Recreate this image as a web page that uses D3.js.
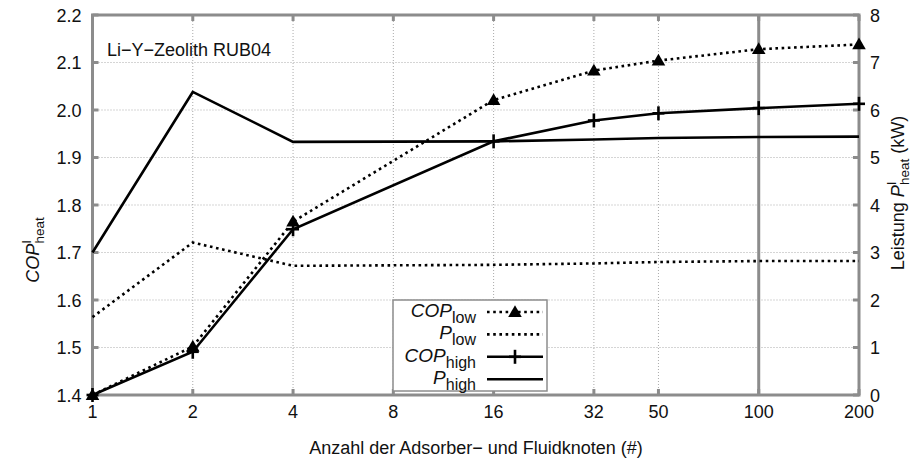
<!DOCTYPE html>
<head>
  <meta charset="utf-8">
  <script src="https://d3js.org/d3.v7.min.js"></script>
  <style>
    body { margin: 0; background: #fff; }
    svg { font-family: "Liberation Sans", Arial, sans-serif; }
    .grid line { stroke: #aaa; stroke-width: 1; stroke-dasharray: 1,2; }
    .tick-mark { stroke: #8c8c8c; stroke-width: 3; }
    .frame { fill: none; stroke: #8c8c8c; stroke-width: 3; }
    .lbl { font-size: 18px; fill: #111; }
    .line { fill: none; stroke: #000; stroke-width: 2.6; }
    .dotted { stroke-dasharray: 2.6,3.6; }
  </style>
</head>
<body>
<svg id="chart" width="916" height="461"></svg>
<script>
// x positions (number of nodes)
var nodes = [1, 2, 4, 16, 32, 50, 100, 200];
var xTicks = [1, 2, 4, 8, 16, 32, 50, 100, 200];
var copTicks = [1.4, 1.5, 1.6, 1.7, 1.8, 1.9, 2.0, 2.1, 2.2];
var pTicks = [0, 1, 2, 3, 4, 5, 6, 7, 8];

// COP (left axis)
var copLow  = [1.40, 1.502, 1.765, 2.021, 2.083, 2.104, 2.128, 2.138];
var copHigh = [1.40, 1.491, 1.749, 1.934, 1.978, 1.993, 2.004, 2.013];
// Power in kW (right axis)
var pLow  = [1.64, 3.21, 2.72, 2.74, 2.77, 2.80, 2.82, 2.82];
var pHigh = [3.00, 6.38, 5.33, 5.34, 5.38, 5.41, 5.43, 5.44];

(function () {
var svg = d3.select("#chart");
var pl = 92.5, pr = 859, pt = 15, pb = 395;

var x = d3.scaleLog().base(2).domain([1, 200]).range([pl, pr]);
var yL = d3.scaleLinear().domain([1.4, 2.2]).range([pb, pt]);
var yR = d3.scaleLinear().domain([0, 8]).range([pb, pt]);

// grid
var grid = svg.append("g").attr("class", "grid");
grid.selectAll(".gx").data(xTicks).join("line")
  .attr("x1", d => x(d)).attr("x2", d => x(d))
  .attr("y1", pt).attr("y2", pb);
grid.selectAll(".gy").data(copTicks).join("line")
  .attr("x1", pl).attr("x2", pr)
  .attr("y1", d => yL(d)).attr("y2", d => yL(d));

// extra solid line at 100
svg.append("line").attr("class", "tick-mark")
  .attr("x1", x(100)).attr("x2", x(100)).attr("y1", pt).attr("y2", pb);

// tick marks on all four sides
var tk = svg.append("g");
xTicks.forEach(function (t) {
  tk.append("line").attr("class", "tick-mark")
    .attr("x1", x(t)).attr("x2", x(t)).attr("y1", pb).attr("y2", pb - 6);
  tk.append("line").attr("class", "tick-mark")
    .attr("x1", x(t)).attr("x2", x(t)).attr("y1", pt).attr("y2", pt + 6);
});
copTicks.forEach(function (t) {
  tk.append("line").attr("class", "tick-mark")
    .attr("x1", pl).attr("x2", pl + 6).attr("y1", yL(t)).attr("y2", yL(t));
});
pTicks.forEach(function (t) {
  tk.append("line").attr("class", "tick-mark")
    .attr("x1", pr).attr("x2", pr - 6).attr("y1", yR(t)).attr("y2", yR(t));
});

svg.append("rect").attr("class", "frame")
  .attr("x", pl).attr("y", pt).attr("width", pr - pl).attr("height", pb - pt);

// tick labels
svg.append("g").selectAll("text").data(xTicks).join("text")
  .attr("class", "lbl").attr("text-anchor", "middle")
  .attr("x", d => x(d)).attr("y", pb + 23).text(d => d);
svg.append("g").selectAll("text").data(copTicks).join("text")
  .attr("class", "lbl").attr("text-anchor", "end")
  .attr("x", pl - 11).attr("y", d => yL(d) + 6.5).text(d => d.toFixed(1));
svg.append("g").selectAll("text").data(pTicks).join("text")
  .attr("class", "lbl").attr("text-anchor", "start")
  .attr("x", pr + 11).attr("y", d => yR(d) + 6.5).text(d => d);

// axis titles
svg.append("text").attr("class", "lbl").attr("text-anchor", "middle")
  .attr("x", 476).attr("y", 454).text("Anzahl der Adsorber\u2212 und Fluidknoten (#)");

var ylab = svg.append("text").attr("class", "lbl")
  .attr("transform", "translate(39,250) rotate(-90)").attr("text-anchor", "middle");
ylab.append("tspan").attr("font-style", "italic").text("COP");
ylab.append("tspan").attr("font-size", 13.5).attr("dy", -8).text("I");
ylab.append("tspan").attr("font-size", 13.5).attr("dx", -3.5).attr("dy", 13).text("heat");

var rlab = svg.append("text").attr("class", "lbl")
  .attr("transform", "translate(904,193) rotate(-90)").attr("text-anchor", "middle");
rlab.append("tspan").text("Leistung ");
rlab.append("tspan").attr("font-style", "italic").text("P");
rlab.append("tspan").attr("font-size", 13.5).attr("dy", -8).text("I");
rlab.append("tspan").attr("font-size", 13.5).attr("dx", -3.5).attr("dy", 13).text("heat");
rlab.append("tspan").attr("dy", -5).text(" (kW)");

svg.append("text").attr("class", "lbl").attr("font-size", 20)
  .attr("x", 107).attr("y", 56).text("Li\u2212Y\u2212Zeolith RUB04");

// series
var series = [
  { name: "low", kind: "COP", vals: copLow, y: yL, dotted: true, marker: "tri" },
  { name: "low", kind: "P", vals: pLow, y: yR, dotted: true, marker: null },
  { name: "high", kind: "COP", vals: copHigh, y: yL, dotted: false, marker: "plus" },
  { name: "high", kind: "P", vals: pHigh, y: yR, dotted: false, marker: null }
];

var tri = d3.symbol().type(d3.symbolTriangle).size(80);

function drawMarker(g, type, cx, cy) {
  if (type === "tri") {
    g.append("path").attr("d", tri()).attr("fill", "#000")
      .attr("transform", "translate(" + cx + "," + (cy + 1) + ")");
  } else if (type === "plus") {
    g.append("line").attr("x1", cx - 6).attr("x2", cx + 6).attr("y1", cy).attr("y2", cy)
      .attr("stroke", "#000").attr("stroke-width", 2.6);
    g.append("line").attr("x1", cx).attr("x2", cx).attr("y1", cy - 7).attr("y2", cy + 7)
      .attr("stroke", "#000").attr("stroke-width", 2.6);
  }
}

var plot = svg.append("g");
series.forEach(function (s) {
  var line = d3.line().x((d, i) => x(nodes[i])).y(d => s.y(d));
  plot.append("path").attr("class", "line" + (s.dotted ? " dotted" : ""))
    .attr("d", line(s.vals));
  if (s.marker) {
    s.vals.forEach(function (v, i) { drawMarker(plot, s.marker, x(nodes[i]), s.y(v)); });
  }
});

// legend
var lg = svg.append("g");
lg.append("rect").attr("x", 393).attr("y", 300).attr("width", 154).attr("height", 91)
  .attr("fill", "#fff").attr("stroke", "#8c8c8c").attr("stroke-width", 1.5);
series.forEach(function (s, i) {
  var ly = 312 + i * 22.4;
  var t = lg.append("text").attr("class", "lbl").attr("text-anchor", "end")
    .attr("x", 476).attr("y", ly + 5);
  t.append("tspan").attr("font-style", "italic").attr("font-size", 19).text(s.kind);
  t.append("tspan").attr("font-size", 16).attr("dy", 6).text(s.name);
  lg.append("line").attr("class", "line" + (s.dotted ? " dotted" : ""))
    .attr("x1", 487).attr("x2", 543).attr("y1", ly).attr("y2", ly);
  if (s.marker) drawMarker(lg, s.marker, 515, ly);
});
})();
</script>
</body>
